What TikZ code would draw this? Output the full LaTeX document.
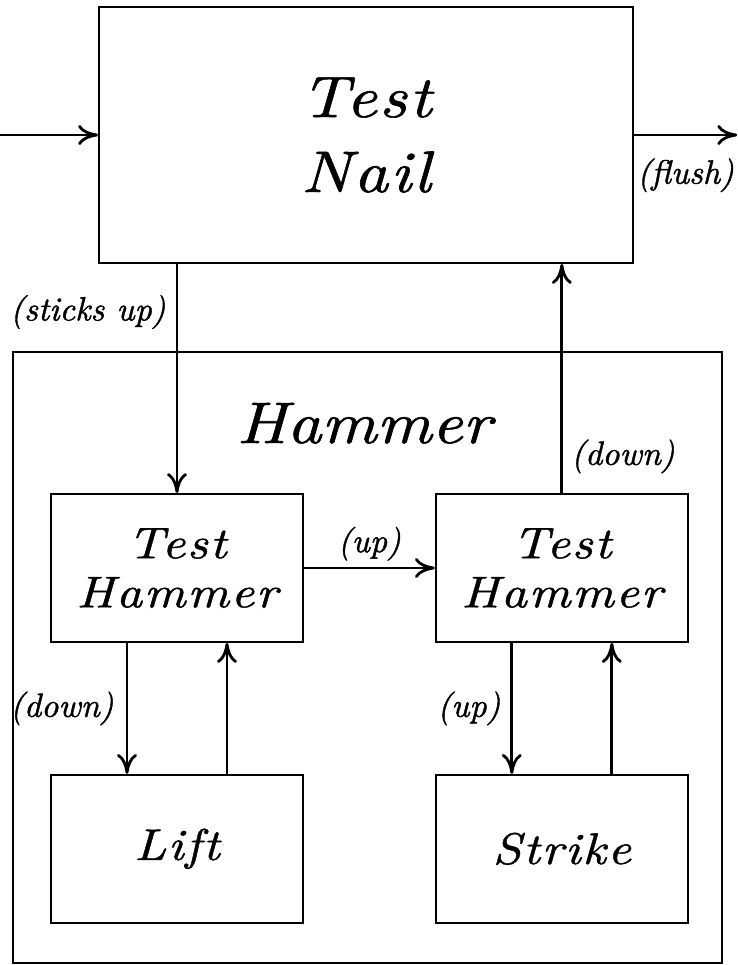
\documentclass[tikz,border=0pt]{standalone}
\usepackage{fontspec}
\setmainfont{lmroman10-regular}[Extension=.otf, ItalicFont=lmroman10-italic,
	BoldFont=lmroman10-bold, BoldItalicFont=lmroman10-bolditalic]
\usetikzlibrary{positioning,arrows.meta}

\newcommand{\BigItal}{\fontsize{41.7}{53.3}\selectfont\itshape\addfontfeature{LetterSpace=4,FakeStretch=1.15,FakeBold=1}}
\newcommand{\MidItal}{\fontsize{31.5}{34.9}\selectfont\itshape\addfontfeature{LetterSpace=4,FakeStretch=1.15,FakeBold=1}}
\newcommand{\SmallItal}{\fontsize{24}{28}\selectfont\itshape\addfontfeature{FakeBold=1.2}}

\begin{document}
\begin{tikzpicture}[
	node distance = 3.275cm,
	BigBox/.style={draw, line width=1.3pt, align=center, font=\BigItal},
	MyBox/.style={draw, line width=1.3pt, minimum width=6.3cm, minimum height=3.7cm,
		align=center, font=\MidItal},
	Flow/.style={line width=2pt, -{Computer Modern Rightarrow[length=5mm, width=5mm]}},
	Cond/.style={font=\SmallItal, inner sep=0pt},
	]
	\coordinate (tl) at (0,0);
	\coordinate (br) at (18.45,-24.125);
	\useasboundingbox (tl) rectangle (br);

	\node [BigBox, minimum width=13.35cm, minimum height=6.4cm] (nail) at (9.15,-3.375) {Test\\Nail};
	\node [BigBox, minimum width=17.725cm, minimum height=15.275cm] (hammer) at (9.1875,-16.4375) {};
	\node [font={\BigItal\addfontfeature{LetterSpace=0}}, anchor=base] (title) at (9.1,-11.075) {Hammer};

	\node [MyBox] (th1) at (4.425,-14.2) {Test\\Hammer};
	\node [MyBox, right=of th1] (th2) {Test\\Hammer};
	\node [MyBox, below=of th1] (lift) {Lift};
	\node [MyBox, below=of th2] (strike) {Strike};

	% in and out of the nail test
	\draw [Flow] (tl |- nail.west) -- (nail.west);
	\draw [Flow] (nail.east) -- node[Cond, below=5.5mm] (flush) {(flush)} ([xshift=-0.5pt]br |- nail.east);
	\draw [Flow] (th1.north |- nail.south) -- node[Cond, left=2.5mm, pos=0.21] {(sticks up)} (th1.north);
	\draw [Flow] (th2.north) -- node[Cond, right=2mm, pos=0.16] {(down)} (th2.north |- nail.south);

	% inside the hammer
	\draw [Flow] (th1.east) -- node[Cond, above=1.5mm] {(up)} (th2.west);
	\draw [Flow] ([xshift=-1.25cm]th1.south) -- node[Cond, left=3mm] {(down)} ([xshift=-1.25cm]lift.north);
	\draw [Flow] ([xshift=1.25cm]lift.north) -- ([xshift=1.25cm]th1.south);
	\draw [Flow] ([xshift=-1.25cm]th2.south) -- node[Cond, left=2.5mm] {(up)} ([xshift=-1.25cm]strike.north);
	\draw [Flow] ([xshift=1.25cm]strike.north) -- ([xshift=1.25cm]th2.south);
\end{tikzpicture}
\end{document}
